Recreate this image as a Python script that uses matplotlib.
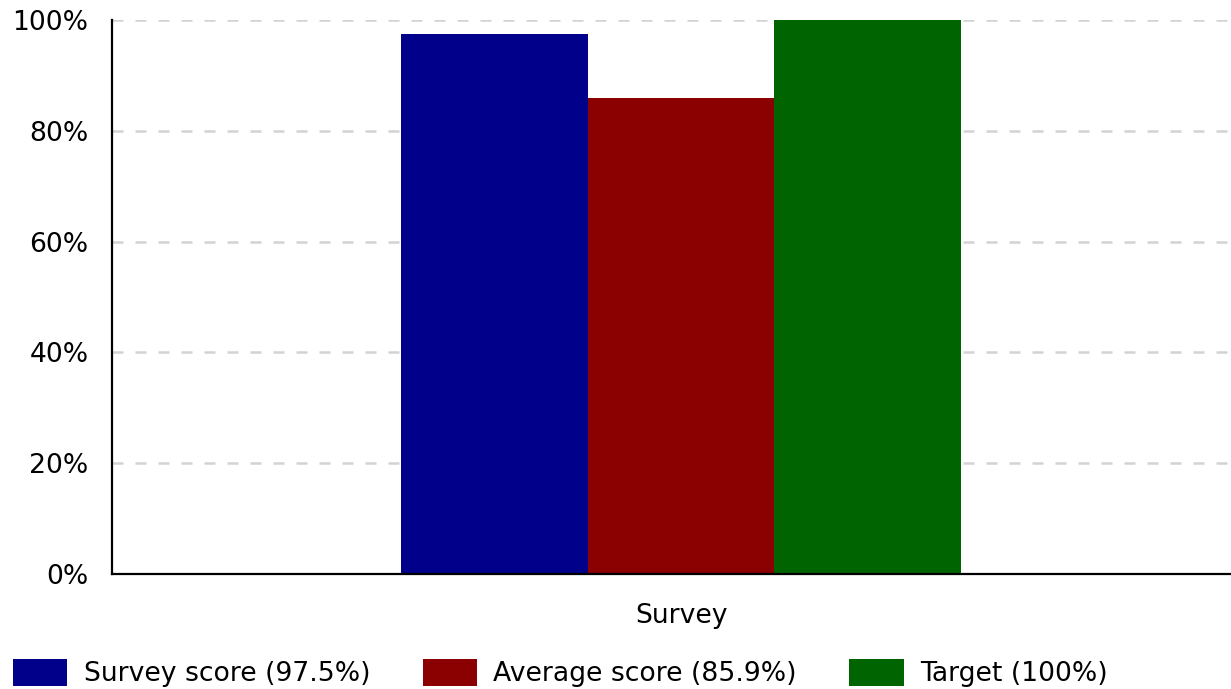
import numpy as np
import matplotlib
matplotlib.use("Agg")
import matplotlib.pyplot as plt

# data
category = ["Survey"]
series_names = ["Survey score (97.5%)", "Average score (85.9%)", "Target (100%)"]
series_values = [97.5, 85.9, 100.0]
series_colors = ["#00008b", "#8b0000", "#006400"]
y_ticks = [0, 20, 40, 60, 80, 100]

W, H = 1231, 689
fig = plt.figure(figsize=(W / 100, H / 100), dpi=100)
ax = fig.add_axes([112 / W, 1 - 574 / H, 1 - 112 / W, (574 - 20) / H])

bar_w = 1 / 3
x = np.arange(len(category))
for i, (name, val, col) in enumerate(zip(series_names, series_values, series_colors)):
    ax.bar(x + (i - 1) * bar_w, [val], width=bar_w, color=col, label=name, zorder=2)

ax.set_xlim(-1.016, 0.982)
ax.set_ylim(0, 100)
ax.set_yticks(y_ticks)
ax.set_yticklabels(["%d%%" % t for t in y_ticks])
ax.set_xticks(x)
ax.set_xticklabels(category)

ax.tick_params(axis="both", length=0, labelsize=19.2)
ax.tick_params(axis="y", pad=17)
ax.tick_params(axis="x", pad=21)

ax.yaxis.grid(True, color="#d3d3d3", linewidth=1.8, linestyle=(0, (4.4, 4.8)), zorder=0)
ax.set_axisbelow(True)

for s in ["top", "right"]:
    ax.spines[s].set_visible(False)
for s in ["left", "bottom"]:
    ax.spines[s].set_linewidth(1.6)
    ax.spines[s].set_color("black")
    ax.spines[s].set_zorder(3)

leg = fig.legend(loc="center left", bbox_to_anchor=(13 / W, 1 - 673 / H),
                 ncol=3, frameon=False, fontsize=19.2, borderpad=0, borderaxespad=0,
                 handlelength=2.03, handleheight=1.2, handletextpad=0.62,
                 columnspacing=1.97)

fig.savefig("out.png", dpi=100)
